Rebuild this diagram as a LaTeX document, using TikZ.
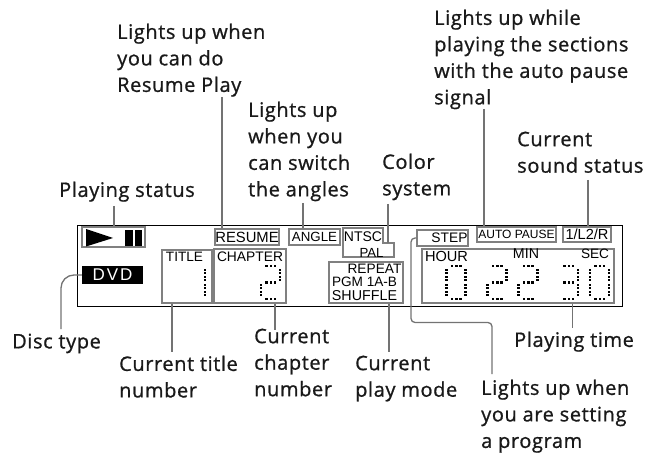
\documentclass[tikz,border=0pt]{standalone}
\usepackage{fontspec}
\setmainfont{Open Sans}
\newfontfamily\lblfont[FakeBold=0.9,LetterSpace=3]{Open Sans}
\newfontfamily\lcdfont{Liberation Sans}
\usepackage{xcolor}
\usepackage{tikz}
\definecolor{leadgray}{gray}{0.45}
\definecolor{boxgray}{gray}{0.5}
\newcommand{\lcdsize}[1]{\lcdfont\fontsize{#1bp}{#1bp}\selectfont}
% dot positions of the seven segments
\newcommand{\sega}{5.5/0,10/0,14/0}
\newcommand{\segb}{19/4,19/7.3,19/10.7,19/14}
\newcommand{\segc}{19/19,19/22.3,19/25.7,19/29}
\newcommand{\segd}{5.5/33,10/33,14/33}
\newcommand{\sege}{0/19,0/22.3,0/25.7,0/29}
\newcommand{\segf}{0/4,0/7.3,0/10.7,0/14}
\newcommand{\segg}{5.5/16.5,10/16.5,14/16.5}
\newcommand{\lcddigit}[3]{\foreach \s in {#3}{\expandafter\let\expandafter\seglist\csname seg\s\endcsname
  \foreach \dx/\dy in \seglist {\fill (#1+\dx-1.15,#2+\dy-1.15) rectangle ++(2.3,2.3);}}}

\begin{document}
\begin{tikzpicture}[x=1bp, y=-1bp,
  label/.style={font=\lblfont\fontsize{20bp}{26.5bp}\selectfont, align=left, anchor=north west, inner sep=0pt, text=black!90},
  lcdbox/.style={draw=boxgray, line width=1.2bp, inner sep=0pt, text=black},
  lead/.style={draw=leadgray, line width=1.3bp},
  lcdtext/.style={inner sep=0pt, text=black}]
\useasboundingbox (0,0) rectangle (648,453);
\node[draw=black, line width=0.9bp, minimum width=545bp, minimum height=81bp, inner sep=0pt] (panel) at (349.5,265.5) {};

\node[lcdbox, minimum width=63bp, minimum height=20bp] (playbox) at (113.5,237) {};
\node[fill=black, text=white, minimum width=61bp, minimum height=18bp, inner sep=0pt, font=\lcdsize{17}] (dvd) at (112.5,275) {D\kern2bp V\kern2bp D};
\node[lcdbox, minimum width=64bp, minimum height=16bp, font=\lcdsize{14.8}] (resume) at (247,237) {RESUME};
\node[lcdbox, minimum width=51bp, minimum height=16bp, font=\lcdsize{13.3}] (angle) at (314.5,237) {ANGLE};
\node[lcdbox, minimum width=51bp, minimum height=16bp, font=\lcdsize{13.8}, text depth=0pt] (step) at (442.5,238) {\hspace*{14bp}STEP};
\node[lcdbox, minimum width=79bp, minimum height=15bp, font=\lcdsize{12}] (autopause) at (516.5,234.5) {AUTO PAUSE};
\node[lcdbox, minimum width=48bp, minimum height=15bp, font=\lcdsize{14.6}] (sound) at (587,234.5) {1/L2/R};
\node[lcdbox, minimum width=50bp, minimum height=53bp] (title) at (187,276.5) {};
\node[lcdbox, minimum width=72bp, minimum height=54bp] (chapter) at (250,276) {};
\node[lcdbox, minimum width=74bp, minimum height=41bp] (mode) at (366,282.5) {};
\node[lcdbox, minimum width=192bp, minimum height=54bp] (time) at (518,276) {};

% play and pause marks
\fill (86,229) -- (113,238) -- (86,246.5) -- cycle;
\fill (125,230) rectangle (133,246.5);
\fill (135,230) rectangle (142,246.5);

% colour system box
\draw[draw=boxgray, line width=1.2bp] (343,228) -- (383,228) -- (383,243) -- (394,243) -- (394,257) -- (343,257) -- cycle;
\coordinate (colornotch) at (388,243);
\node[lcdtext, font=\lcdsize{14}] (ntsc) at (363,237) {NTSC};
\node[lcdtext, font=\lcdsize{13.2}] (pal) at (371.5,253) {PAL};

\node[lcdtext, font=\lcdsize{13.6}] (titletxt) at (184.5,257) {TITLE};
\node[lcdtext, font=\lcdsize{13.8}] (chaptertxt) at (250,257) {CHAPTER};
\node[lcdtext, font=\lcdsize{13.7}] (repeat) at (374.5,269) {REPEAT};
\node[lcdtext, font=\lcdsize{13.6}] (pgm) at (364.5,282) {PGM 1A-B};
\node[lcdtext, font=\lcdsize{14.3}] (shuffle) at (364.5,296) {SHUFFLE};
\node[lcdtext, font=\lcdsize{14.6}] (hour) at (446.5,256) {HOUR};
\node[lcdtext, font=\lcdsize{14.2}] (min) at (526,254) {MIN};
\node[lcdtext, font=\lcdsize{13.6}] (sec) at (595,254) {SEC};

% digits
\lcddigit{186}{266}{b,c}
\lcddigit{261}{266}{a,b,g,e,d}
\lcddigit{446.5}{266}{a,b,c,d,e,f}
\lcddigit{487.5}{266}{a,b,g,e,d}
\lcddigit{518.5}{266}{a,b,g,e,d}
\lcddigit{559}{266}{a,b,g,c,d}
\lcddigit{590}{266}{a,b,c,d,e,f}

% labels above
\node[label] (lblresume) at (117,23.5) {Lights up when\\you can do\\Resume Play};
\node[label] (lblangle) at (248,101.5) {Lights up\\when you\\can switch\\the angles};
\node[label] (lblplay) at (59,181.5) {Playing status};
\node[label] (lblcolor) at (382,153.5) {Color\\system};
\node[label] (lblauto) at (434,9.5) {Lights up while\\playing the sections\\with the auto pause\\signal};
\node[label] (lblsound) at (517,131.5) {Current\\sound status};
% labels below
\node[label] (lbldisc) at (12,333.5) {Disc type};
\node[label] (lbltitle) at (119,355.5) {Current title\\number};
\node[label] (lblchapter) at (254,328.5) {Current\\chapter\\number};
\node[label] (lblmode) at (355,355.5) {Current\\play mode};
\node[label] (lblstep) at (481,379.5) {Lights up when\\you are setting\\a program};
\node[label] (lbltime) at (514,331.5) {Playing time};

% leads
\coordinate (playend) at (114,206); \draw[lead] (playend) -- (playend |- playbox.north);
\coordinate (resumeend) at (222,97); \draw[lead] (resumeend) -- (resumeend |- resume.north);
\coordinate (angleend) at (303,203); \draw[lead] (angleend) -- (angleend |- angle.north);
\coordinate (colorend) at (388,204); \draw[lead] (colorend) -- (colornotch);
\coordinate (autoend) at (484,109); \draw[lead] (autoend) -- (autoend |- autopause.north);
\coordinate (soundend) at (588,180); \draw[lead] (soundend) -- (soundend |- sound.north);
\coordinate (discend) at (61,329); \draw[lead, rounded corners=13bp] (dvd.west) -| (discend);
\coordinate (titleend) at (172,352); \draw[lead] (titleend |- title.south) -- (titleend);
\coordinate (chapterend) at (275,330); \draw[lead] (chapterend |- chapter.south) -- (chapterend);
\coordinate (modeend) at (389,352); \draw[lead] (modeend |- mode.south) -- (modeend);
\coordinate (timeend) at (572.5,328); \draw[lead] (timeend |- time.south) -- (timeend);
\coordinate (stepend) at (492,374); \coordinate (stepcorner) at (411,322.5);
\draw[lead, rounded corners=4bp] (step.west) -| (stepcorner) -| (stepend);
\end{tikzpicture}
\end{document}
